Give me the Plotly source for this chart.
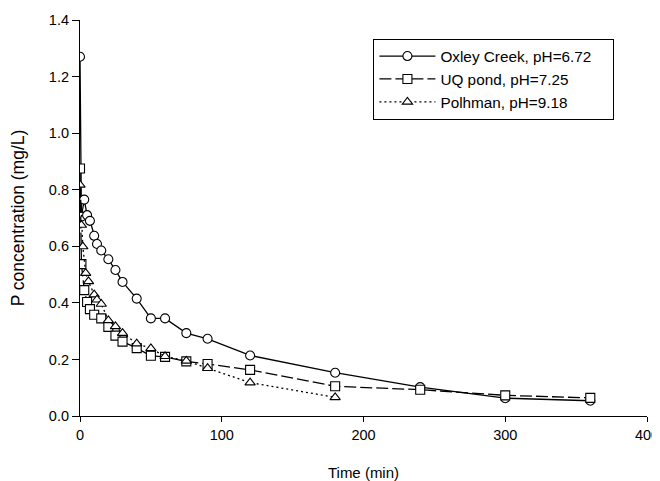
import plotly.graph_objects as go

# Oxley Creek, pH=6.72
oxley_t = [0, 1, 3, 5, 7, 10, 12, 15, 20, 25, 30, 40, 50, 60, 75, 90, 120, 180, 240, 300, 360]
oxley_c = [1.27, 0.705, 0.765, 0.71, 0.69, 0.637, 0.608, 0.585, 0.554, 0.516, 0.474, 0.415, 0.345, 0.345, 0.293, 0.273, 0.214, 0.153, 0.102, 0.063, 0.054]

# UQ pond, pH=7.25
uq_t = [0, 1, 3, 5, 7, 10, 15, 20, 25, 30, 40, 50, 60, 75, 90, 120, 180, 240, 300, 360]
uq_c = [0.875, 0.537, 0.445, 0.403, 0.378, 0.358, 0.345, 0.315, 0.284, 0.263, 0.24, 0.213, 0.209, 0.193, 0.184, 0.163, 0.105, 0.093, 0.073, 0.064]

# Polhman, pH=9.18
pol_t = [0, 1, 2, 4, 6, 10, 12, 15, 20, 25, 30, 40, 50, 60, 75, 90, 120, 180]
pol_c = [0.817, 0.675, 0.599, 0.505, 0.476, 0.429, 0.411, 0.396, 0.338, 0.317, 0.293, 0.256, 0.239, 0.211, 0.195, 0.169, 0.118, 0.066]

x_ticks = [0, 100, 200, 300, 400]
y_ticks = [0, 0.2, 0.4, 0.6, 0.8, 1.0, 1.2, 1.4]

series = [
    ("Oxley Creek, pH=6.72", oxley_t, oxley_c, "solid", "circle"),
    ("UQ pond, pH=7.25", uq_t, uq_c, "12px,4px", "square"),
    ("Polhman, pH=9.18", pol_t, pol_c, "2px,3px", "triangle-up"),
]

PAD = "\u00a0" * 4  # trailing padding inside the legend box

fig = go.Figure()
for name, t, c, dash, sym in series:
    fig.add_trace(go.Scatter(
        x=t, y=c, name=name + PAD, mode="lines+markers",
        line=dict(color="black", width=1.3, dash=dash),
        marker=dict(symbol=sym, size=9, color="white",
                    line=dict(color="black", width=1.1)),
    ))

font_family = "Liberation Sans, Arial, sans-serif"
# the page body has an 8px margin, so the figure is sized to fill the rest of the window
fig.update_layout(
    width=652, height=473,
    margin=dict(l=72, r=13.3, t=11.6, b=64.5, autoexpand=False),
    paper_bgcolor="white", plot_bgcolor="white",
    font=dict(family=font_family, size=14.5, color="black"),
    showlegend=True,
    legend=dict(
        x=0.5175, y=0.953, xanchor="left", yanchor="top",
        bordercolor="black", borderwidth=1, bgcolor="white",
        font=dict(size=15.3, family=font_family),
        tracegroupgap=0, itemwidth=56,
    ),
    xaxis=dict(
        range=[0, 400], tickvals=x_ticks,
        ticks="outside", ticklen=5, tickwidth=1, tickcolor="black",
        showline=True, linecolor="black", linewidth=1.2,
        showgrid=False, zeroline=False, automargin=False,
        title=dict(text="Time (min)", standoff=25, font=dict(size=15)),
        tickfont=dict(size=14.5),
    ),
    yaxis=dict(
        range=[0, 1.4], tickvals=y_ticks,
        tickformat=".1f",
        ticks="outside", ticklen=7, tickwidth=1, tickcolor="black",
        showline=True, linecolor="black", linewidth=1.2,
        showgrid=False, zeroline=False, automargin=False,
        title=dict(text="P concentration (mg/L)", standoff=20, font=dict(size=17.5)),
        tickfont=dict(size=14.5),
    ),
)

fig.write_html("out.html")
